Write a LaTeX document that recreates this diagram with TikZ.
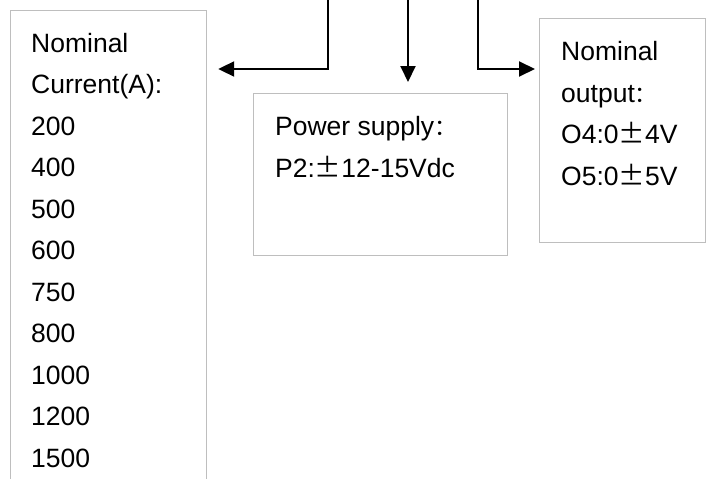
\documentclass[tikz,border=0pt]{standalone}
\usepackage{fontspec}
\setmainfont{Liberation Sans}
\newfontfamily\cjk{Noto Sans CJK SC}
\usetikzlibrary{arrows.meta}
\definecolor{boxgray}{RGB}{190,190,190}
\newcommand{\pmw}{\makebox[1em]{\cjk ±}}
\newcommand{\fcolon}{{\cjk\scalebox{0.85}{：}}}
\begin{document}
\begin{tikzpicture}[x=1pt,y=-1pt,
  box/.style={draw=boxgray, line width=1.2pt, anchor=north west, inner sep=0pt},
  label/.style={anchor=base west, inner sep=0pt, align=left,
    font=\fontsize{26.5pt}{41.5pt}\selectfont},
  arr/.style={-{Triangle[length=16pt,width=15pt]}, line width=2pt, black}]
\useasboundingbox (0,0) rectangle (707,479);
\clip (0,0) rectangle (707,479);
% boxes
\node[box, minimum width=196pt, minimum height=520pt] (curbox) at (10,10) {};
\node[box, minimum width=254pt, minimum height=162pt] (pwbox) at (253,93) {};
\node[box, minimum width=166pt, minimum height=224pt] (outbox) at (539,18) {};
% texts (base anchor = baseline of last line)
\node[label] (curtext) at (31,467) {Nominal\\Current(A):\\200\\400\\500\\600\\750\\800\\1000\\1200\\1500};
\node[label] (pwtext) at (275,177) {Power supply\fcolon\\P2:\pmw12-15Vdc};
\node[label] (outtext) at (561,185) {Nominal\\output\fcolon\\O4:0\pmw4V\\O5:0\pmw5V};
% connectors
\coordinate (s1) at (328,0);
\coordinate (s2) at (408,0);
\coordinate (s3) at (478,0);
\coordinate (j1) at (328,69);
\coordinate (j3) at (478,69);
\draw[arr, shorten >=11pt] (s1) -- (j1) -- (curbox.east |- j1);
\draw[arr, shorten >=11pt] (s2) -- (s2 |- pwbox.north);
\draw[arr, shorten >=4pt] (s3) -- (j3) -- (outbox.west |- j3);
\end{tikzpicture}
\end{document}
